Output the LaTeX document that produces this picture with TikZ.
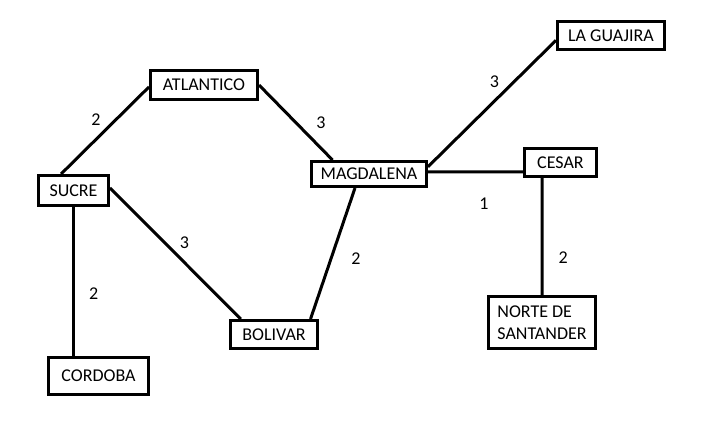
\documentclass[tikz,border=0pt]{standalone}
\usepackage{fontspec}
\setmainfont{Carlito}
\begin{document}
\begin{tikzpicture}[x=1pt, y=-1pt,
	box/.style={draw, line width=3pt, inner sep=0pt, font=\fontsize{18}{22}\selectfont},
	lbl/.style={inner sep=3pt, font=\fontsize{18}{22}\selectfont},
	link/.style={line width=3pt}]
	\useasboundingbox (0, 0) rectangle (704, 426);

	\node[box, minimum width=107pt, minimum height=29pt] (ATL) at (204, 85) {ATLANTICO};
	\node[box, minimum width=70pt, minimum height=30pt] (SUC) at (73.5, 190.5) {SUCRE};
	\node[box, minimum width=115pt, minimum height=25pt] (MAG) at (369, 174) {MAGDALENA};
	\node[box, minimum width=107pt, minimum height=28pt] (GUA) at (611, 35.5) {LA GUAJIRA};
	\node[box, minimum width=72pt, minimum height=28pt] (CES) at (560.5, 162.5) {CESAR};
	\node[box, minimum width=100pt, minimum height=37pt] (COR) at (98.5, 376) {CORDOBA};
	\node[box, minimum width=87pt, minimum height=28pt] (BOL) at (274, 334.5) {BOLIVAR};
	\node[box, minimum width=107pt, minimum height=52pt, align=left] (NOR) at (542, 322.5) {NORTE DE\\SANTANDER};

	\draw[link] (SUC.127) -- node[lbl, above left] {2} (ATL.182);
	\draw[link] (ATL.east) -- node[lbl, right=16pt] {3} (MAG.159);
	\draw[link] (MAG.7) -- node[lbl, pos=.59, above left] {3} (GUA.185);
	\draw[link] (MAG.2) -- node[lbl, pos=.59, below=22pt] {1} (CES.194);
	\draw[link] (CES.220) -- node[lbl, pos=.68, right=12pt] {2} (NOR.north);
	\draw[link] (SUC.south) -- node[lbl, pos=.58, right=11pt] {2} (SUC.south |- COR.north);
	\draw[link] (SUC.4) -- node[lbl, above right] {3} (BOL.155);
	\draw[link] (MAG.225) -- node[lbl, pos=.54, right=16pt] {2} (BOL.23);

\end{tikzpicture}
\end{document}
